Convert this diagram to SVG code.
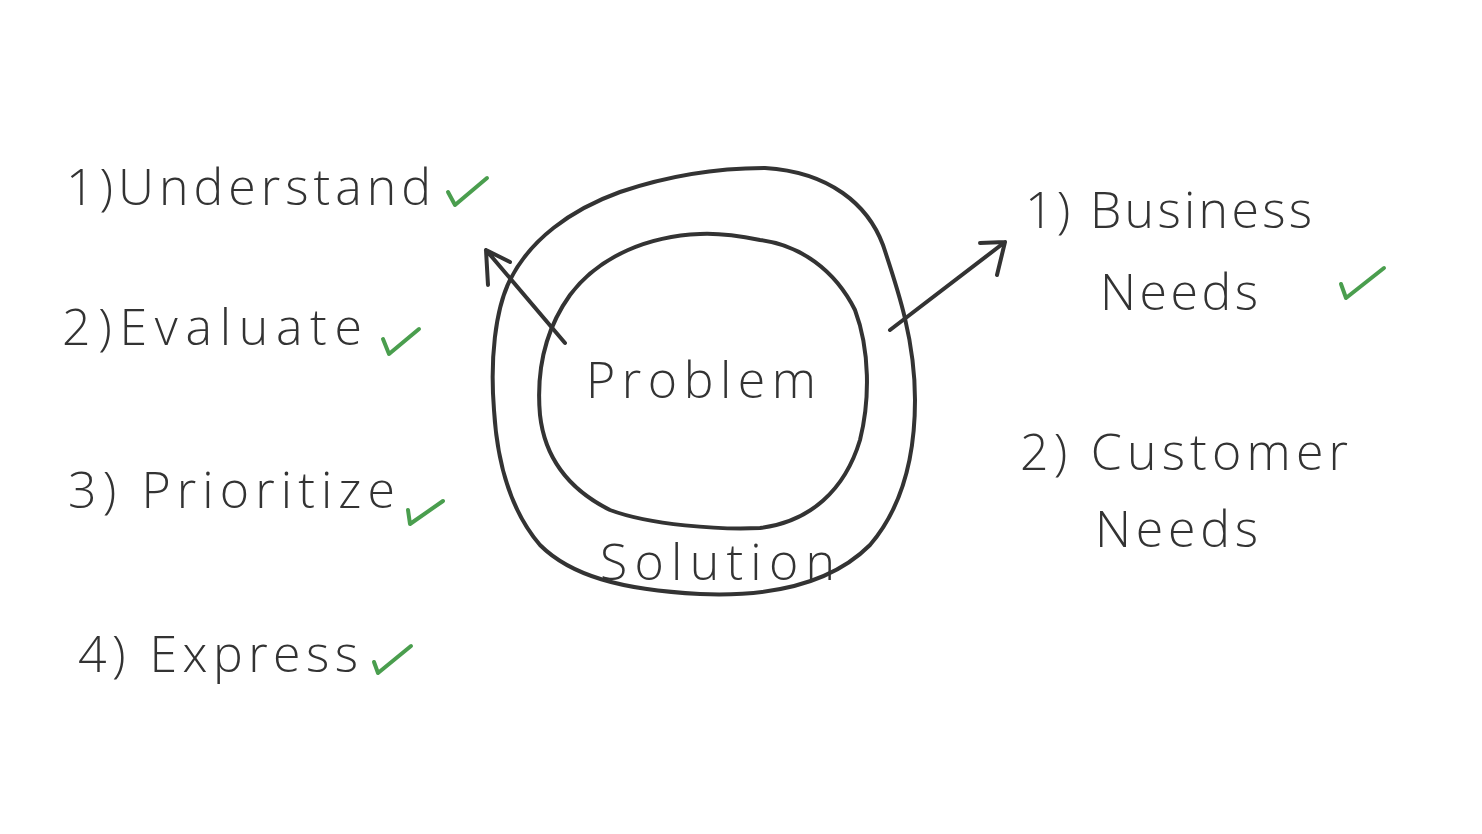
<svg xmlns="http://www.w3.org/2000/svg" width="1482" height="834" viewBox="0 0 1482 834">
<style>
.t{font-family:"Open Sans","Liberation Sans",sans-serif;font-weight:300;fill:#333;font-size:50px}
.ln{fill:none;stroke:#333;stroke-width:4;stroke-linecap:round;stroke-linejoin:round}
.ck{fill:none;stroke:#4a9e4e;stroke-width:4;stroke-linecap:round;stroke-linejoin:round}
</style>
<rect width="1482" height="834" fill="#fff"/>
<g id="outer-solution">
<path class="ln" d="M765,168 C830,172 868,205 883,245 C898,290 915,340 915,400 C915,460 900,510 870,545 C830,585 770,597 700,594 C620,590 570,575 540,545 C510,510 497,460 494,410 C490,360 495,310 510,280 C530,240 570,210 620,192 C670,175 720,168 765,168 Z"/>
<text class="t" x="600" y="580" font-size="52" textLength="235" lengthAdjust="spacing">Solution</text>
</g>
<g id="inner-problem">
<path class="ln" d="M700,234 C650,236 600,255 570,295 C545,330 536,370 540,415 C545,460 570,490 610,510 C650,525 720,530 760,528 C810,522 845,490 860,440 C870,400 870,350 855,310 C835,270 800,245 760,240 C740,236 720,233 700,234 Z"/>
<text class="t" x="586" y="398" font-size="64" textLength="230" lengthAdjust="spacing">Problem</text>
</g>
<g id="connectors">
<path class="ln" d="M565,343 L486,250 M486,250 L488,285 M486,250 L510,262"/>
<path class="ln" d="M890,330 L1005,242 M1005,242 L980,243 M1005,242 L997,275"/>
</g>
<g id="understand">
<text class="t" x="66" y="205" textLength="365" lengthAdjust="spacing">1)Understand</text>
<path class="ck" d="M448,192 L455,205 L487,178"/>
</g>
<g id="evaluate">
<text class="t" x="62" y="345" textLength="300" lengthAdjust="spacing">2)Evaluate</text>
<path class="ck" d="M383,339 L389,354 L419,329"/>
</g>
<g id="prioritize">
<text class="t" x="68" y="508" textLength="327" lengthAdjust="spacing">3) Prioritize</text>
<path class="ck" d="M408,510 L410,524 L443,501"/>
</g>
<g id="express">
<text class="t" x="78" y="672" textLength="280" lengthAdjust="spacing">4) Express</text>
<path class="ck" d="M374,662 L378,673 L411,646"/>
</g>
<g id="business-needs">
<text class="t" x="1025" y="228" textLength="287" lengthAdjust="spacing">1) Business</text>
<text class="t" x="1100" y="310" textLength="158" lengthAdjust="spacing">Needs</text>
<path class="ck" d="M1341,284 L1346,298 L1384,268"/>
</g>
<g id="customer-needs">
<text class="t" x="1020" y="470" textLength="328" lengthAdjust="spacing">2) Customer</text>
<text class="t" x="1095" y="547" textLength="163" lengthAdjust="spacing">Needs</text>
</g>
</svg>
